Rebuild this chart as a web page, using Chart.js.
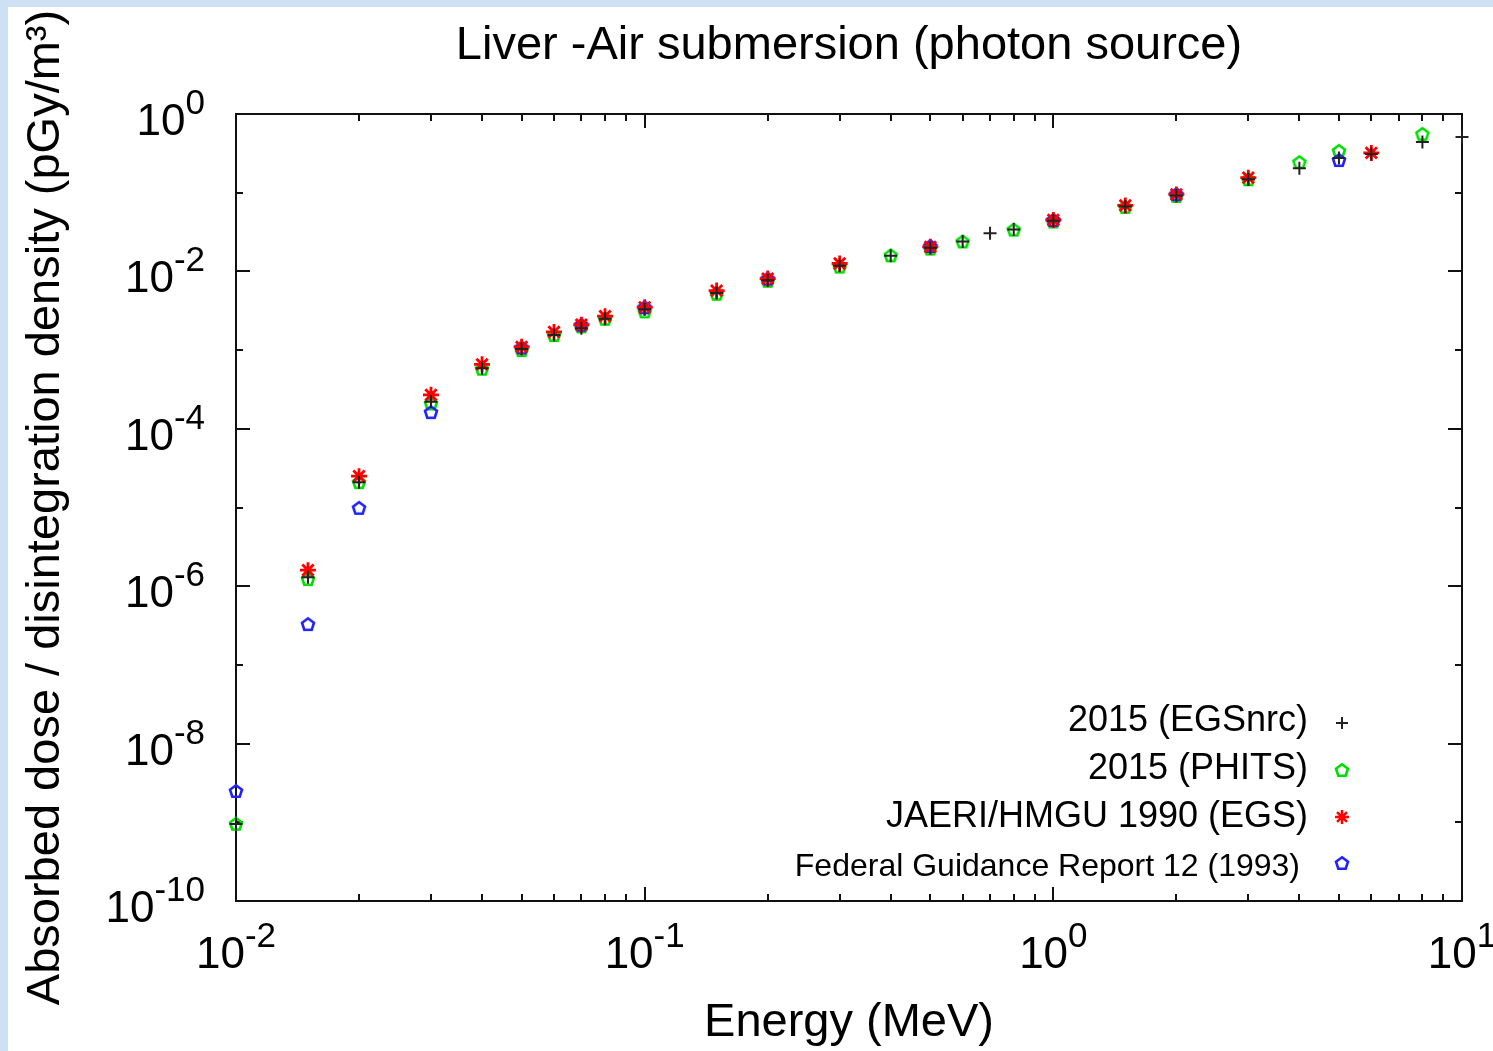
<!DOCTYPE html>
<html>
<head>
<meta charset="utf-8">
<script src="https://cdn.jsdelivr.net/npm/chart.js@4.4.1/dist/chart.umd.min.js"></script>
<style>
  body { margin: 0; background: #cee0f4; }
  #wrap { position: absolute; left: 8px; top: 7px; width: 1485px; height: 1044px; background: #fff; }
</style>
</head>
<body>
<div id="wrap"><canvas id="graph"></canvas></div>
<script>
const energies = [0.01, 0.015, 0.02, 0.03, 0.04, 0.05, 0.06, 0.07, 0.08, 0.1, 0.15, 0.2, 0.3, 0.4, 0.5, 0.6, 0.7, 0.8, 1, 1.5, 2, 3, 4, 5, 6, 8, 10];
const egsnrc = [9.5e-10, 1.3e-6, 2.1e-5, 2.2e-4, 5.9e-4, 1.03e-3, 1.55e-3, 1.9e-3, 2.5e-3, 3.3e-3, 5.3e-3, 7.7e-3, 1.18e-2, 1.58e-2, 2.0e-2, 2.4e-2, 3.05e-2, 3.4e-2, 4.4e-2, 6.7e-2, 9.2e-2, 0.148, 0.205, 0.275, 0.31, 0.44, 0.51];
const phits = [9.6e-10, 1.23e-6, 2.1e-5, 2.1e-4, 5.8e-4, 1.0e-3, 1.55e-3, 2.0e-3, 2.5e-3, 3.1e-3, 5.2e-3, 7.6e-3, 1.15e-2, 1.6e-2, 1.95e-2, 2.4e-2, null, 3.4e-2, 4.3e-2, 6.6e-2, 9.1e-2, 0.148, 0.245, 0.34, null, 0.56, null];
const jaeri = [null, 1.6e-6, 2.5e-5, 2.7e-4, 6.6e-4, 1.1e-3, 1.7e-3, 2.1e-3, 2.7e-3, 3.5e-3, 5.7e-3, 8.1e-3, 1.26e-2, null, 2.05e-2, null, null, null, 4.5e-2, 6.9e-2, 9.5e-2, 0.155, null, null, 0.32, null, null];
const fgr12 = [2.5e-9, 3.3e-7, 9.9e-6, 1.63e-4, null, 1.08e-3, null, 2.1e-3, null, 3.5e-3, null, 8.1e-3, null, null, 2.1e-2, null, null, null, 4.5e-2, null, 9.6e-2, null, null, 0.26, null, null, null];
const seriesNames = ['2015 (EGSnrc)', '2015 (PHITS)', 'JAERI/HMGU 1990 (EGS)', 'Federal Guidance Report 12 (1993)'];
const xTickExps = [-2, -1, 0, 1];
const yTickExps = [0, -2, -4, -6, -8, -10];

const family = "'Liberation Sans', Arial, Helvetica, sans-serif";
Chart.defaults.font.family = family;
Chart.defaults.color = '#000';

function pentagon(color) {
    const c = document.createElement('canvas');
    c.width = 18; c.height = 18;
    const g = c.getContext('2d');
    g.strokeStyle = color;
    g.lineWidth = 2.6;
    g.beginPath();
    for (let i = 0; i < 5; i++) {
        const a = -Math.PI / 2 + i * 2 * Math.PI / 5;
        const px = 9 + 6.3 * Math.cos(a), py = 9.6 + 6.3 * Math.sin(a);
        if (i) g.lineTo(px, py); else g.moveTo(px, py);
    }
    g.closePath();
    g.stroke();
    return c;
}

const greenPent = pentagon('#00dd00');
const bluePent = pentagon('#2222ff');

function pts(vals) {
    const out = [];
    vals.forEach((v, i) => { if (v !== null) out.push({ x: energies[i], y: v }); });
    return out;
}

// draws 10^n with a raised exponent
function drawPow(ctx, exp, x, y, align) {
    ctx.font = '44px ' + family;
    const wb = ctx.measureText('10').width;
    ctx.font = '35px ' + family;
    const ws = ctx.measureText(String(exp)).width;
    const x0 = align === 'right' ? x - wb - ws : x - (wb + ws) / 2;
    ctx.textAlign = 'left';
    ctx.textBaseline = 'alphabetic';
    ctx.fillStyle = '#000';
    ctx.font = '44px ' + family;
    ctx.fillText('10', x0, y);
    ctx.font = '35px ' + family;
    ctx.fillText(String(exp), x0 + wb, y - 21);
}

const frame = {
    id: 'frame',
    beforeDatasetsDraw(chart) {
        const { ctx, chartArea: a, scales: { x, y } } = chart;
        ctx.save();
        ctx.strokeStyle = '#111';
        ctx.lineWidth = 2;
        ctx.beginPath();
        for (let e = -2; e < 1; e++) {
            for (let m = 1; m <= 9; m++) {
                const px = Math.round(x.getPixelForValue(m * Math.pow(10, e)));
                const len = m === 1 ? 14 : 7;
                ctx.moveTo(px, a.bottom); ctx.lineTo(px, a.bottom - len);
                ctx.moveTo(px, a.top); ctx.lineTo(px, a.top + len);
            }
        }
        for (let e = -10; e <= 0; e++) {
            const py = Math.round(y.getPixelForValue(Math.pow(10, e)));
            const len = e % 2 === 0 ? 14 : 7;
            ctx.moveTo(a.left, py); ctx.lineTo(a.left + len, py);
            ctx.moveTo(a.right, py); ctx.lineTo(a.right - len, py);
        }
        ctx.stroke();
        ctx.strokeRect(a.left, a.top, a.right - a.left, a.bottom - a.top);
        ctx.restore();
    },
    afterDraw(chart) {
        const { ctx, chartArea: a, scales: { x, y } } = chart;
        ctx.save();
        xTickExps.forEach(e => drawPow(ctx, e, x.getPixelForValue(Math.pow(10, e)), a.bottom + 67, 'center'));
        yTickExps.forEach(e => drawPow(ctx, e, a.left - 31, y.getPixelForValue(Math.pow(10, e)) + 21, 'right'));

        // legend, right aligned text with marker after it
        const rows = [183, 135, 87, 37];
        const marks = [178, 131, 84, 38];
        ctx.textAlign = 'right';
        ctx.textBaseline = 'alphabetic';
        seriesNames.forEach((name, i) => {
            const size = i === 3 ? 32 : 36;
            ctx.font = size + 'px ' + family;
            ctx.fillStyle = '#000';
            ctx.fillText(name, a.right - (i === 3 ? 162 : 154), a.bottom - rows[i] + size * 0.36);
            const mx = a.right - 120, my = a.bottom - marks[i];
            ctx.lineWidth = 2;
            if (i === 0) {
                ctx.strokeStyle = '#222';
                ctx.beginPath();
                ctx.moveTo(mx - 6, my); ctx.lineTo(mx + 6, my);
                ctx.moveTo(mx, my - 6); ctx.lineTo(mx, my + 6);
                ctx.stroke();
            } else if (i === 2) {
                ctx.strokeStyle = '#ff0000';
                ctx.lineWidth = 2.5;
                ctx.beginPath();
                for (let k = 0; k < 4; k++) {
                    const ang = k * Math.PI / 4;
                    ctx.moveTo(mx - 7 * Math.cos(ang), my - 7 * Math.sin(ang));
                    ctx.lineTo(mx + 7 * Math.cos(ang), my + 7 * Math.sin(ang));
                }
                ctx.stroke();
            } else {
                const img = i === 1 ? greenPent : bluePent;
                ctx.drawImage(img, mx - 9, my - 9);
            }
        });
        ctx.restore();
    }
};

new Chart(document.getElementById('graph'), {
    type: 'scatter',
    data: {
        datasets: [
            { label: seriesNames[0], data: pts(egsnrc), pointStyle: 'cross', pointRadius: 6.5, borderColor: '#222', borderWidth: 2, order: 0, clip: false },
            { label: seriesNames[1], data: pts(phits), pointStyle: greenPent, pointRadius: 7, borderColor: '#00dd00', order: 3, clip: false },
            { label: seriesNames[2], data: pts(jaeri), pointStyle: 'star', pointRadius: 8, borderColor: '#ff0000', borderWidth: 2.8, order: 1, clip: false },
            { label: seriesNames[3], data: pts(fgr12), pointStyle: bluePent, pointRadius: 7, borderColor: '#2222ff', order: 2, clip: false }
        ]
    },
    options: {
        responsive: true,
        maintainAspectRatio: false,
        animation: false,
        layout: { padding: { top: 0, left: 0, right: 31, bottom: 0 } },
        plugins: {
            legend: { display: false },
            tooltip: { enabled: false },
            title: {
                display: true,
                fullSize: false,
                text: 'Liver -Air submersion (photon source)',
                font: { size: 47, weight: 'normal' },
                color: '#000',
                padding: { top: 11, bottom: 39.6 }
            }
        },
        scales: {
            x: {
                type: 'logarithmic',
                min: 0.01,
                max: 10,
                grid: { display: false },
                border: { display: false },
                ticks: { display: false },
                title: { display: true, text: 'Energy (MeV)', font: { size: 47 }, color: '#000', padding: { top: 0, bottom: 0 } },
                afterFit(scale) { scale.height = 150; }
            },
            y: {
                type: 'logarithmic',
                min: 1e-10,
                max: 1,
                grid: { display: false },
                border: { display: false },
                ticks: { display: false },
                title: { display: true, text: 'Absorbed dose / disintegration density (pGy/m³)', font: { size: 47 }, color: '#000', padding: { top: 10, bottom: 0 } },
                afterFit(scale) { scale.width = 228; }
            }
        }
    },
    plugins: [frame]
});
</script>
</body>
</html>
